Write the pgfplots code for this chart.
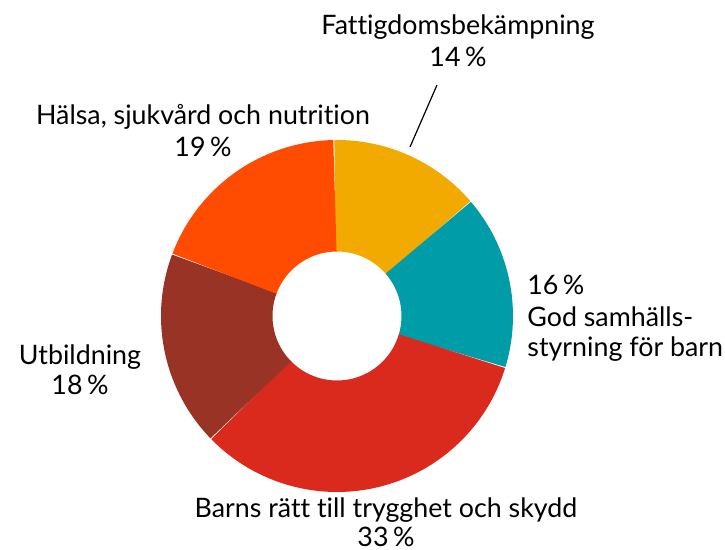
\documentclass[border=0pt]{standalone}
\usepackage{pgfplots}
\pgfplotsset{compat=1.18}
\usepgfplotslibrary{polar}
\usepackage{fontspec}
\setmainfont{Lato}[Ligatures=CommonOff]

\definecolor{cYel}{RGB}{242,169,0}
\definecolor{cTeal}{RGB}{0,157,168}
\definecolor{cRed}{RGB}{218,41,29}
\definecolor{cBrown}{RGB}{153,51,38}
\definecolor{cOrange}{RGB}{255,76,0}

% shares in percent, clockwise from the top
\def\pFat{14}
\def\pGod{16}
\def\pBarn{33}
\def\pUtb{18}
\def\pHal{19}

\begin{document}
\begin{tikzpicture}[x=0.5pt,y=-0.5pt,font=\fontsize{13.4}{16}\selectfont]
\useasboundingbox (0,0) rectangle (725,550);
% cumulative angles (clockwise)
\pgfmathsetmacro\aA{91}
\pgfmathsetmacro\aB{\aA-3.6*\pFat}
\pgfmathsetmacro\aC{\aB-3.6*\pGod}
\pgfmathsetmacro\aD{\aC-3.6*\pBarn}
\pgfmathsetmacro\aE{\aD-3.6*\pUtb}
\pgfmathsetmacro\aF{\aE-3.6*\pHal}
\begin{polaraxis}[at={(168.5pt,-158pt)}, anchor=center, hide axis, scale only axis,
    width=176pt, height=176pt, ymin=0, ymax=1, clip=false]
  \addplot[no markers, domain=\aB:\aA, samples=60, line width=55.75pt, color=cYel] {0.6832};
  \addplot[no markers, domain=\aC:\aB, samples=60, line width=55.75pt, color=cTeal] {0.6832};
  \addplot[no markers, domain=\aD:\aC, samples=100, line width=55.75pt, color=cRed] {0.6832};
  \addplot[no markers, domain=\aE:\aD, samples=60, line width=55.75pt, color=cBrown] {0.6832};
  \addplot[no markers, domain=\aF:\aE, samples=60, line width=55.75pt, color=cOrange] {0.6832};
\end{polaraxis}

\begin{scope}[every node/.style={inner sep=0pt}]
\node[anchor=base] at (458,35) {Fattigdomsbekämpning};
\node[anchor=base] at (458,66.7) {14\,\%};
\draw[line width=0.6pt] (437,85) -- (410,147);
\node[anchor=base] at (203,125) {Hälsa, sjukvård och nutrition};
\node[anchor=base] at (203,156.7) {19\,\%};
\node[anchor=base west] at (527,295) {16\,\%};
\node[anchor=base west] at (527,326.7) {God samhälls-};
\node[anchor=base west] at (527,356.7) {styrning för barn};
\node[anchor=base] at (80,365) {Utbildning};
\node[anchor=base] at (80,395) {18\,\%};
\node[anchor=base] at (386,517.3) {Barns rätt till trygghet och skydd};
\node[anchor=base] at (386,547) {33\,\%};
\end{scope}
\end{tikzpicture}
\end{document}
